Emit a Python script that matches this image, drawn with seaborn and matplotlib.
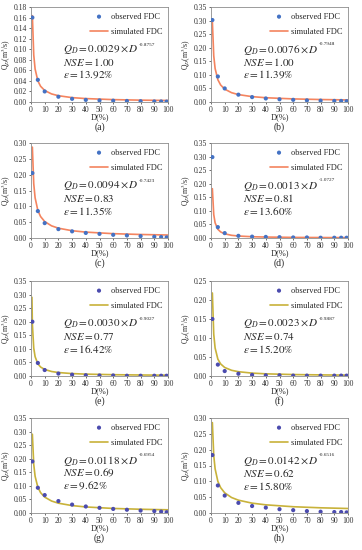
import numpy as np
import pandas as pd
import matplotlib
matplotlib.use("Agg")
import matplotlib.pyplot as plt
import seaborn as sns

# ---------------- data ----------------
d_obs = [1, 5, 10, 20, 30, 40, 50, 60, 70, 80, 90, 95, 99]
d_sim = [1, 2, 3, 5, 7, 10, 15, 20, 30, 40, 60, 80, 100]
d_sim_e = [0.7] + d_sim

obs_a = [0.160, 0.042, 0.020, 0.010, 0.006, 0.004, 0.003, 0.0025, 0.002, 0.0015, 0.001, 0.001, 0.0008]
sim_a = [0.1636, 0.0892, 0.0625, 0.0400, 0.0298, 0.0218, 0.0153, 0.0119, 0.0083, 0.0065, 0.0045, 0.0035, 0.0029]

obs_b = [0.302, 0.094, 0.050, 0.027, 0.018, 0.013, 0.010, 0.008, 0.006, 0.005, 0.004, 0.004, 0.003]
sim_b = [0.2955, 0.1703, 0.1234, 0.0822, 0.0629, 0.0474, 0.0343, 0.0273, 0.0198, 0.0157, 0.0114, 0.0091, 0.0076]

obs_c = [0.205, 0.085, 0.047, 0.028, 0.021, 0.016, 0.013, 0.010, 0.008, 0.006, 0.004, 0.003, 0.002]
sim_c = [0.2869, 0.1715, 0.1269, 0.0869, 0.0677, 0.0519, 0.0384, 0.0310, 0.0230, 0.0186, 0.0137, 0.0111, 0.0094]

obs_d = [0.298, 0.040, 0.018, 0.008, 0.005, 0.004, 0.003, 0.002, 0.002, 0.001, 0.001, 0.001, 0.001]
sim_d = [0.1817, 0.0864, 0.0559, 0.0323, 0.0225, 0.0154, 0.0099, 0.0073, 0.0047, 0.0035, 0.0022, 0.0017, 0.0013]

obs_e = [0.200, 0.048, 0.022, 0.009, 0.005, 0.003, 0.002, 0.002, 0.001, 0.001, 0.001, 0.001, 0.001]
sim_e = [0.290, 0.1917, 0.1025, 0.0711, 0.0448, 0.0331, 0.0240, 0.0166, 0.0128, 0.0089, 0.0069, 0.0048, 0.0037, 0.0030]

obs_f = [0.150, 0.030, 0.013, 0.006, 0.003, 0.002, 0.002, 0.001, 0.001, 0.001, 0.001, 0.001, 0.001]
sim_f = [0.2184, 0.1100, 0.0737, 0.0445, 0.0319, 0.0224, 0.0150, 0.0113, 0.0076, 0.0057, 0.0038, 0.0029, 0.0023]

obs_g = [0.190, 0.093, 0.066, 0.044, 0.031, 0.024, 0.019, 0.015, 0.012, 0.009, 0.007, 0.005, 0.003]
sim_g = [0.2902, 0.1792, 0.1352, 0.0948, 0.0750, 0.0585, 0.0441, 0.0361, 0.0273, 0.0223, 0.0168, 0.0138, 0.0118]

obs_h = [0.183, 0.087, 0.055, 0.032, 0.022, 0.017, 0.012, 0.009, 0.006, 0.004, 0.003, 0.003, 0.002]
sim_h = [0.2854, 0.1817, 0.1395, 0.1000, 0.0803, 0.0637, 0.0489, 0.0405, 0.0311, 0.0258, 0.0198, 0.0164, 0.0142]

labels = ["(a)", "(b)", "(c)", "(d)", "(e)", "(f)", "(g)", "(h)"]
coef = ["0.0029", "0.0076", "0.0094", "0.0013", "0.0030", "0.0023", "0.0118", "0.0142"]
expo = ["-0.8757", "-0.7948", "-0.7423", "-1.0727", "-0.9027", "-0.9887", "-0.6954", "-0.6516"]
nse = ["1.00", "1.00", "0.83", "0.81", "0.77", "0.74", "0.69", "0.62"]
eps = ["13.92", "11.39", "11.35", "13.60", "16.42", "15.20", "9.62", "15.80"]
ymax = [0.18, 0.35, 0.30, 0.35, 0.35, 0.25, 0.35, 0.30]
ystep = [0.02, 0.05, 0.05, 0.05, 0.05, 0.05, 0.05, 0.05]

obs_all = [obs_a, obs_b, obs_c, obs_d, obs_e, obs_f, obs_g, obs_h]
sim_all = [sim_a, sim_b, sim_c, sim_d, sim_e, sim_f, sim_g, sim_h]

# ---------------- style ----------------
sns.set_style("ticks")
plt.rcParams['font.family'] = ['Liberation Serif', 'DejaVu Serif']
plt.rcParams['mathtext.fontset'] = 'stix'

fig = plt.figure(figsize=(3.62, 5.5), dpi=100)

lefts = [31 / 362, 211 / 362]
bottoms = [1 - 102 / 550, 1 - 238 / 550, 1 - 376 / 550, 1 - 513 / 550]
w, h = 137 / 362, 95 / 550

for i in range(8):
    r, c = divmod(i, 2)
    ax = fig.add_axes([lefts[c], bottoms[r], w, h])
    if i < 4:
        c_obs, c_sim = "#4472C4", "#F4845F"
    else:
        c_obs, c_sim = "#4B4BAE", "#C8B23A"
    xs = d_sim_e if i == 4 else d_sim
    sns.lineplot(x=xs, y=sim_all[i], ax=ax, color=c_sim, lw=1.2,
                 label="simulated FDC", zorder=2)
    sns.scatterplot(x=d_obs, y=obs_all[i], ax=ax, color=c_obs, s=9,
                    edgecolor="none", label="observed FDC", zorder=3)

    ax.set_xlim(0, 100)
    ax.set_ylim(0, ymax[i])
    ax.set_xticks(np.arange(0, 101, 10))
    ax.set_yticks(np.arange(0, ymax[i] + 1e-9, ystep[i]))
    ax.yaxis.set_major_formatter(matplotlib.ticker.FormatStrFormatter('%.2f'))
    ax.tick_params(labelsize=5.5, length=1.5, width=0.5, pad=1.5, colors="#333333")
    for sp in ax.spines.values():
        sp.set_visible(True)
        sp.set_color("#8c8c8c")
        sp.set_linewidth(0.6)

    ax.set_xlabel("D(%)", fontsize=6)
    ax.xaxis.set_label_coords(0.5, -0.12)
    ax.set_ylabel(r"Q$_D$(m$^3$/s)", fontsize=5.5)
    ax.yaxis.set_label_coords(-0.135, 0.5)

    hd, lb = ax.get_legend_handles_labels()
    ax.legend(hd[::-1], lb[::-1], loc="upper right", frameon=False, fontsize=6,
              handlelength=2.2, handletextpad=0.3, borderaxespad=0.3,
              labelspacing=0.9, markerscale=1.0)

    t1 = ax.text(0.23, 0.55, r"$Q_D = %s\times D$" % coef[i],
                 transform=ax.transAxes, fontsize=8, va="center")
    ax.annotate(expo[i], xy=(1, 0.75), xycoords=t1, xytext=(0.5, 0),
                textcoords="offset points", fontsize=3.8, va="bottom", ha="left")
    ax.text(0.23, 0.42, r"$NSE = %s$" % nse[i],
            transform=ax.transAxes, fontsize=8, va="center")
    ax.text(0.23, 0.285, r"$\varepsilon = %s\%%$" % eps[i],
            transform=ax.transAxes, fontsize=8, va="center")

    ax.text(0.5, -0.265, labels[i], transform=ax.transAxes, fontsize=7,
            ha="center", va="center")

fig.savefig("out.png", dpi=100)
